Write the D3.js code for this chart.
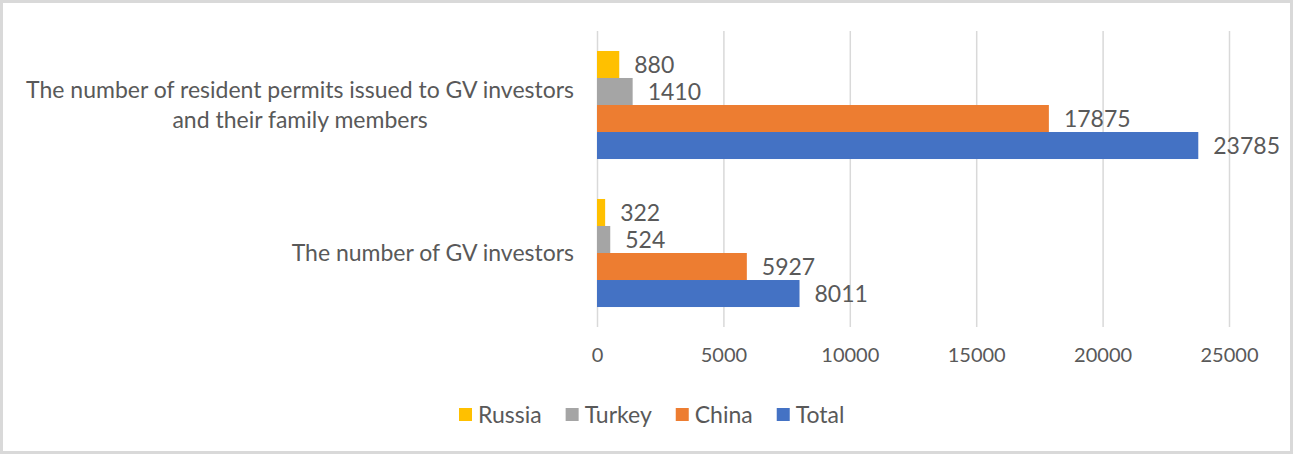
<!DOCTYPE html>
<html>
<head>
<meta charset="utf-8">
<script src="https://cdn.jsdelivr.net/npm/d3@7"></script>
<style>
  html, body { margin: 0; padding: 0; background: #fff; }
  svg { display: block; font-family: Lato, "Open Sans", sans-serif; }
</style>
</head>
<body>
<svg width="1293" height="454"></svg>
<script>
// categories, top to bottom
const categories = [
  "The number of resident permits issued to GV investors and their family members",
  "The number of GV investors"
];
const seriesNames = ["Russia", "Turkey", "China", "Total"];
const seriesColors = ["#FFC000", "#A5A5A5", "#ED7D31", "#4472C4"];
// values per series, in category order
const russia = [880, 322];
const turkey = [1410, 524];
const china = [17875, 5927];
const total = [23785, 8011];
const xTicks = [0, 5000, 10000, 15000, 20000, 25000];

const seriesValues = [russia, turkey, china, total];
const textColor = "#595959";

const svg = d3.select("svg");
const W = 1293, H = 454;

// chart border
svg.append("rect")
  .attr("x", 1.5).attr("y", 1.5)
  .attr("width", W - 3).attr("height", H - 3)
  .attr("fill", "#fff")
  .attr("stroke", "#d9d9d9")
  .attr("stroke-width", 3);

const plot = { left: 597, right: 1229, top: 31, bottom: 327 };

const x = d3.scaleLinear().domain([0, 25000]).range([plot.left, plot.right]);
const y = d3.scaleBand().domain(categories)
  .range([plot.top, plot.bottom])
  .paddingInner(0.27).paddingOuter(0.135);
const ySeries = d3.scaleBand().domain(seriesNames).range([0, y.bandwidth()]);

// gridlines
svg.append("g")
  .attr("transform", `translate(0,${plot.bottom})`)
  .call(d3.axisBottom(x).tickValues(xTicks).tickSize(-(plot.bottom - plot.top)).tickFormat(""))
  .call(g => g.select(".domain").remove())
  .call(g => g.selectAll(".tick line").attr("stroke", "#d9d9d9").attr("stroke-width", 1.5));

// tick labels
svg.append("g")
  .attr("transform", `translate(0,${plot.bottom})`)
  .call(d3.axisBottom(x).tickValues(xTicks).tickSize(0).tickPadding(0).tickFormat(d3.format("d")))
  .call(g => g.select(".domain").remove())
  .call(g => g.selectAll(".tick text")
    .attr("y", 28).attr("dy", "0.35em")
    .attr("fill", textColor)
    .style("font-size", "20px")
    .style("font-family", "Lato, sans-serif"));

// bars
const rows = [];
categories.forEach((c, ci) => {
  seriesNames.forEach((s, si) => {
    rows.push({ cat: c, series: s, value: seriesValues[si][ci], color: seriesColors[si] });
  });
});

const bars = svg.append("g");
bars.selectAll("rect")
  .data(rows)
  .join("rect")
  .attr("x", x(0))
  .attr("y", d => y(d.cat) + ySeries(d.series))
  .attr("width", d => x(d.value) - x(0))
  .attr("height", ySeries.bandwidth())
  .attr("fill", d => d.color);

// data labels
bars.selectAll("text")
  .data(rows)
  .join("text")
  .attr("x", d => x(d.value) + 15)
  .attr("y", d => y(d.cat) + ySeries(d.series) + ySeries.bandwidth() / 2)
  .attr("dy", "0.35em")
  .attr("fill", textColor)
  .style("font-size", "23px")
  .text(d => d.value);

// category labels (wrapped, centred lines, block right-aligned)
const catG = svg.append("g");
const labelRight = 574, maxWidth = 570, lineHeight = 30;
categories.forEach(c => {
  const t = catG.append("text")
    .attr("fill", textColor)
    .style("font-size", "23px")
    .attr("text-anchor", "middle");
  const words = c.split(" ");
  const lines = [];
  let line = [];
  let tspan = t.append("tspan");
  words.forEach(w => {
    line.push(w);
    tspan.text(line.join(" "));
    if (tspan.node().getComputedTextLength() > maxWidth && line.length > 1) {
      line.pop();
      lines.push(line.join(" "));
      line = [w];
    }
  });
  lines.push(line.join(" "));
  t.selectAll("tspan").remove();
  const spans = lines.map(l => t.append("tspan").text(l));
  const blockW = d3.max(spans, s => s.node().getComputedTextLength());
  const cx = labelRight - blockW / 2;
  const cy = y(c) + y.bandwidth() / 2;
  spans.forEach((s, i) => {
    s.attr("x", cx)
      .attr("y", cy + (i - (lines.length - 1) / 2) * lineHeight)
      .attr("dy", "0.35em");
  });
});

// legend
const legend = svg.append("g").attr("transform", "translate(459,415)");
let lx = 0;
seriesNames.forEach((s, i) => {
  const item = legend.append("g").attr("transform", `translate(${lx},0)`);
  item.append("rect")
    .attr("x", 0).attr("y", -7)
    .attr("width", 13).attr("height", 13)
    .attr("fill", seriesColors[i]);
  const txt = item.append("text")
    .attr("x", 19).attr("dy", "0.35em")
    .attr("fill", textColor)
    .style("font-size", "23px")
    .text(s);
  lx += 19 + txt.node().getComputedTextLength() + 24;
});
</script>
</body>
</html>
